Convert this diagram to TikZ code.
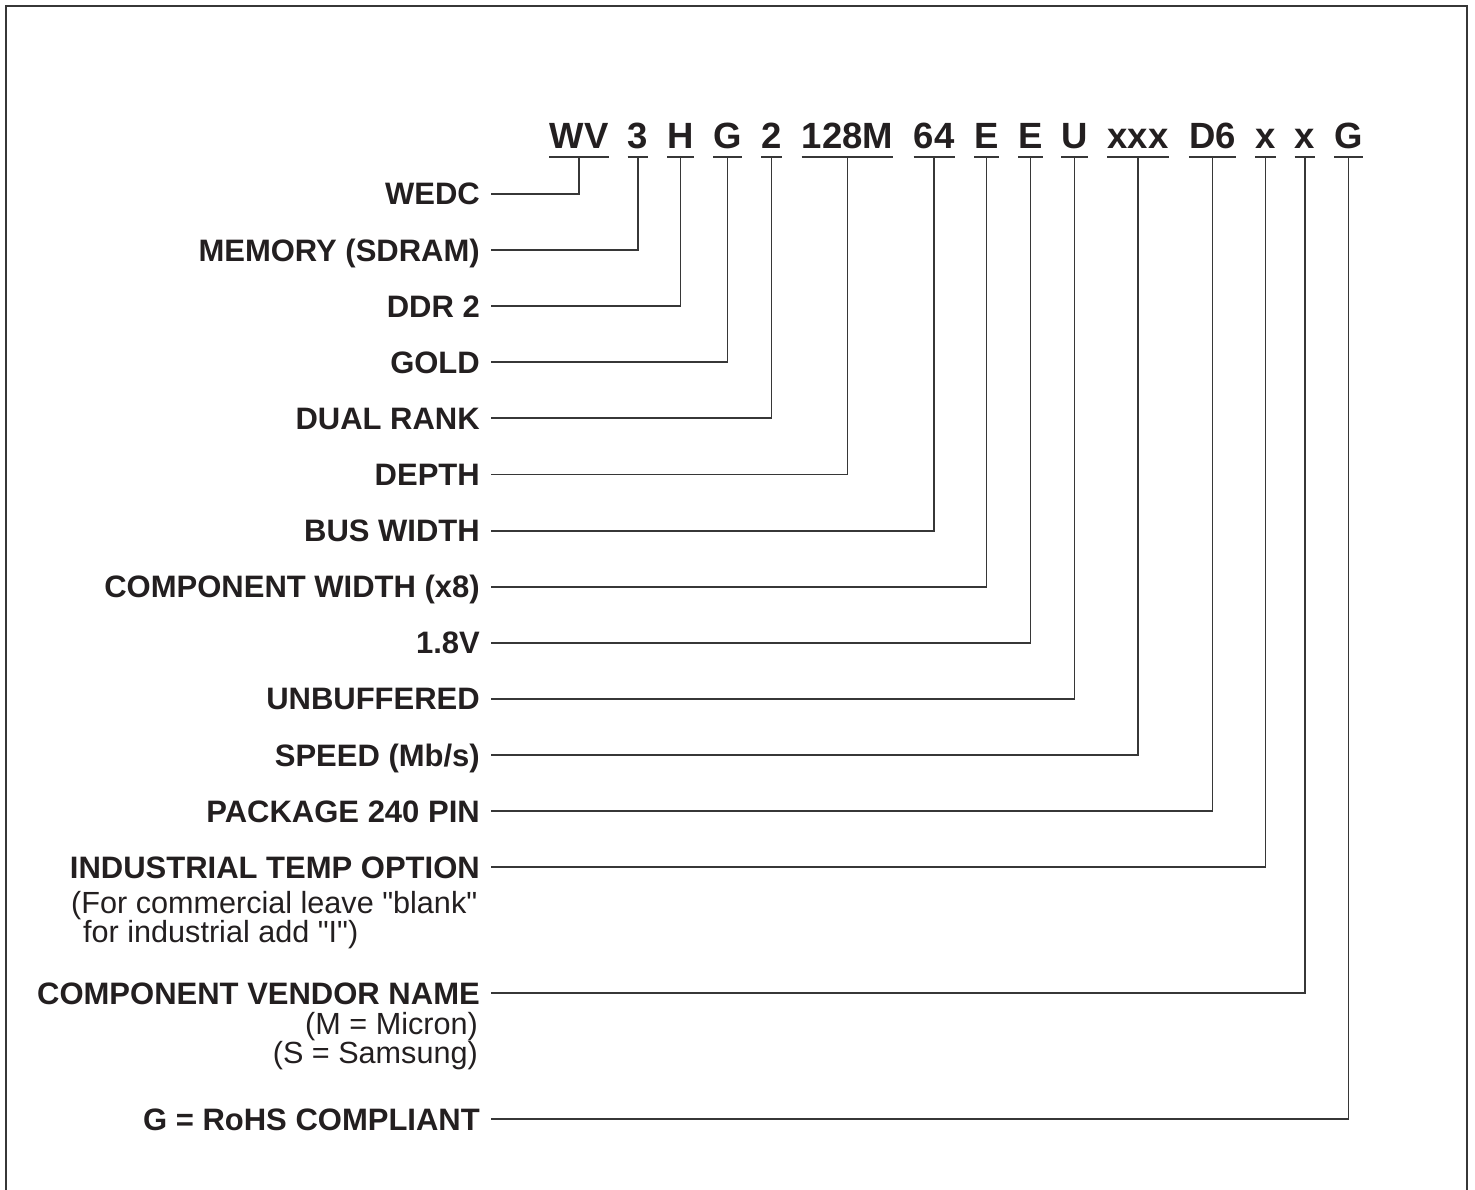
\documentclass[tikz,border=0pt]{standalone}
\usepackage{fontspec}
\setmainfont{Liberation Sans}
\definecolor{ink}{RGB}{35,31,32}
\definecolor{linegray}{RGB}{55,55,55}
\newcommand\codefnt{\fontsize{36.5}{40}\selectfont\bfseries}
\newcommand\lblfnt{\fontsize{31}{34}\selectfont\bfseries}
\newcommand\notefnt{\fontsize{30.6}{33}\selectfont}
\tikzset{
  code/.style={font=\codefnt, text=ink, inner xsep=0pt, inner ysep=0pt, text depth=8pt, anchor=base},
  lbl/.style={font=\lblfnt, text=ink, inner sep=0pt, text height=22pt, text depth=0pt, anchor=east},
  note/.style={font=\notefnt, text=ink, inner sep=0pt},
  conn/.style={line width=1.9pt, draw=linegray},
  uline/.style={line width=2.2pt, draw=linegray},
  frame/.style={line width=2.4pt, draw=linegray}
}
\begin{document}
\begin{tikzpicture}[x=1pt,y=-1pt]
\useasboundingbox (0,0) rectangle (1475,1190);
\draw[frame] (6,1195) -- (6,6) -- (1467,6) -- (1467,1195);
% code parts
\node[code] (c1)  at (579,149)    {WV};
\node[code] (c2)  at (638,149)    {3};
\node[code] (c3)  at (680.5,149)  {H};
\node[code] (c4)  at (727.5,149)  {G};
\node[code] (c5)  at (771.5,149)  {2};
\node[code] (c6)  at (847.5,149)  {128M};
\node[code] (c7)  at (934,149)    {64};
\node[code] (c8)  at (986.5,149)  {E};
\node[code] (c9)  at (1030.5,149) {E};
\node[code] (c10) at (1074.5,149) {U};
\node[code] (c11) at (1138,149)   {xxx};
\node[code] (c12) at (1212.5,149) {D6};
\node[code] (c13) at (1265.5,149) {x};
\node[code] (c14) at (1305,149)   {x};
\node[code] (c15) at (1348.5,149) {G};
\foreach \i in {1,...,15}{\draw[uline] (c\i.south west) -- (c\i.south east);}
% labels
\node[lbl] (l1)  at (480,194)   {WEDC};
\node[lbl] (l2)  at (480,250.1) {MEMORY (SDRAM)};
\node[lbl] (l3)  at (480,306.2) {DDR 2};
\node[lbl] (l4)  at (480,362.3) {GOLD};
\node[lbl] (l5)  at (480,418.4) {DUAL RANK};
\node[lbl] (l6)  at (480,474.5) {DEPTH};
\node[lbl] (l7)  at (480,530.6) {BUS WIDTH};
\node[lbl] (l8)  at (480,586.7) {COMPONENT WIDTH (x8)};
\node[lbl] (l9)  at (480,642.8) {1.8V};
\node[lbl] (l10) at (480,698.9) {UNBUFFERED};
\node[lbl] (l11) at (480,755)   {SPEED (Mb/s)};
\node[lbl] (l12) at (480,811.1) {PACKAGE 240 PIN};
\node[lbl] (l13) at (480,867.2) {INDUSTRIAL TEMP OPTION};
\node[lbl] (l14) at (480,993)   {COMPONENT VENDOR NAME};
\node[lbl] (l15) at (480,1119)  {G = RoHS COMPLIANT};
% notes
\node[note, anchor=base west] (n1) at (71,913)  {(For commercial leave \textquotedbl blank\textquotedbl};
\node[note, anchor=base west] (n2) at (83,942)  {for industrial add \textquotedbl I\textquotedbl)};
\node[note, anchor=base east] (n3) at (478,1034) {(M = Micron)};
\node[note, anchor=base east] (n4) at (478,1063) {(S = Samsung)};
% connectors
\foreach \i in {1,...,15}{\draw[conn] ([xshift=11pt]l\i.east) -| (c\i.south);}
\end{tikzpicture}
\end{document}
